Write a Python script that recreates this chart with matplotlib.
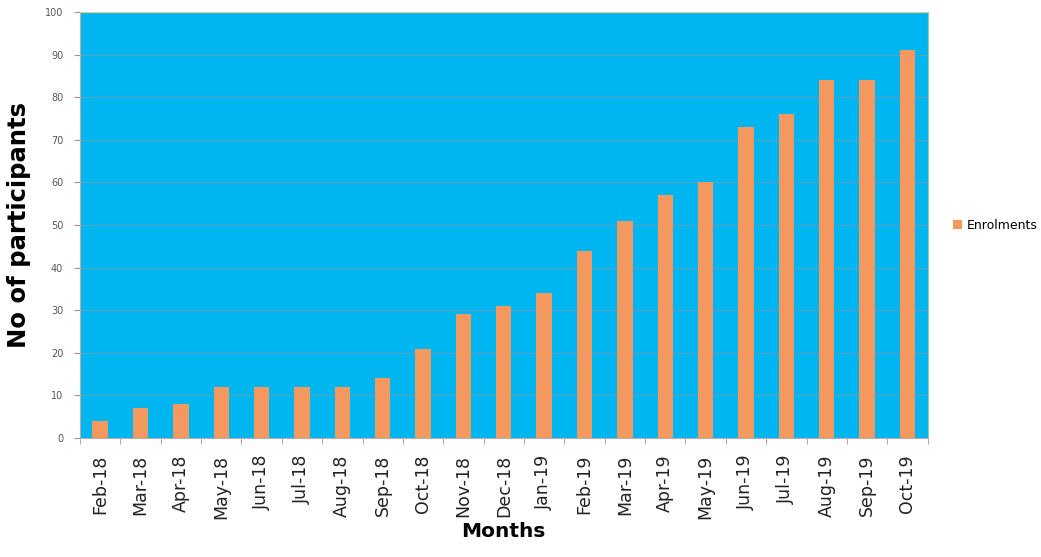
import matplotlib
matplotlib.use("Agg")
import matplotlib.pyplot as plt
import numpy as np

months = ["Feb-18", "Mar-18", "Apr-18", "May-18", "Jun-18", "Jul-18", "Aug-18",
          "Sep-18", "Oct-18", "Nov-18", "Dec-18", "Jan-19", "Feb-19", "Mar-19",
          "Apr-19", "May-19", "Jun-19", "Jul-19", "Aug-19", "Sep-19", "Oct-19"]
enrolments = [4, 7, 8, 12, 12, 12, 12, 14, 21, 29, 31, 34, 44, 51, 57, 60, 73, 76, 84, 84, 91]
yticks = list(range(0, 101, 10))

fig = plt.figure(figsize=(10.41, 5.57), dpi=100)
ax = fig.add_axes([0.0768, 0.2136, 0.8143, 0.7648])
ax.set_facecolor("#00B6F0")
x = np.arange(len(months))
ax.bar(x, enrolments, width=0.38, color="#F3985E", label="Enrolments", zorder=3)
ax.set_xlim(-0.5, len(months) - 0.5)
ax.set_ylim(0, 100)
ax.set_yticks(yticks)
ax.set_yticklabels([str(v) for v in yticks], fontsize=7, color="#555555")
ax.yaxis.grid(True, color="#4BA6CC", linewidth=1.0, zorder=1)
ax.set_xticks(x)
ax.set_xticklabels(months, rotation=90, fontsize=12.5, color="#222222")
ax.tick_params(axis="x", length=0, pad=12)
ax.set_xticks(np.arange(-0.5, len(months), 1), minor=True)
ax.tick_params(axis="x", which="minor", length=4, color="#D08080")
ax.tick_params(axis="y", length=4, color="#D08080", pad=8)
for side in ["left", "bottom"]:
    ax.spines[side].set_color("#B0B0B0")
ax.spines["top"].set_color("#D8D890")
ax.spines["right"].set_color("#90D090")
ax.set_ylabel("No of participants", fontsize=17.5, fontweight="bold", labelpad=10)
ax.set_xlabel("Months", fontsize=14.5, fontweight="bold", labelpad=2)
fig.legend(loc="center left", bbox_to_anchor=(0.905, 0.595), frameon=False,
           fontsize=9, handlelength=0.7, handleheight=0.7, handletextpad=0.4)
fig.savefig("out.png", dpi=100)
